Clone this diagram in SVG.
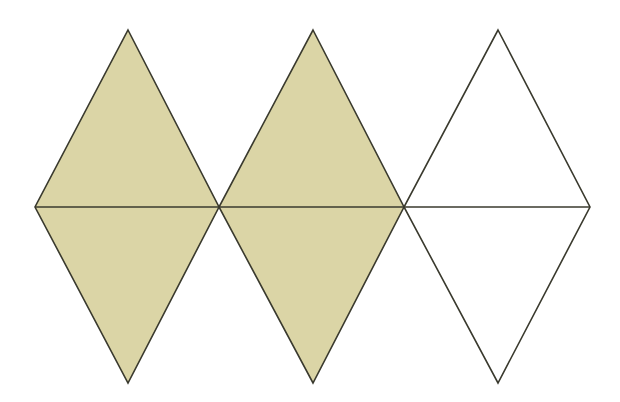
<svg xmlns="http://www.w3.org/2000/svg" width="620" height="402" viewBox="0 0 620 402">
<style>
.d{stroke:#3a3a2e;stroke-width:1.6;stroke-linejoin:miter}
.f{fill:#dbd5a6}
.w{fill:#ffffff}
</style>
<rect width="620" height="402" fill="#ffffff"/>
<g id="diamond1"><polygon class="d f" points="128,30 219,207 128,383 35,207"/></g>
<g id="diamond2"><polygon class="d f" points="313,30 404,207 313,383 219,207"/></g>
<g id="diamond3"><polygon class="d w" points="498,30 590,207 498,383 404,207"/></g>
<g id="connectors"><line class="d" x1="35" y1="207" x2="590" y2="207" stroke-width="2"/></g>
</svg>
